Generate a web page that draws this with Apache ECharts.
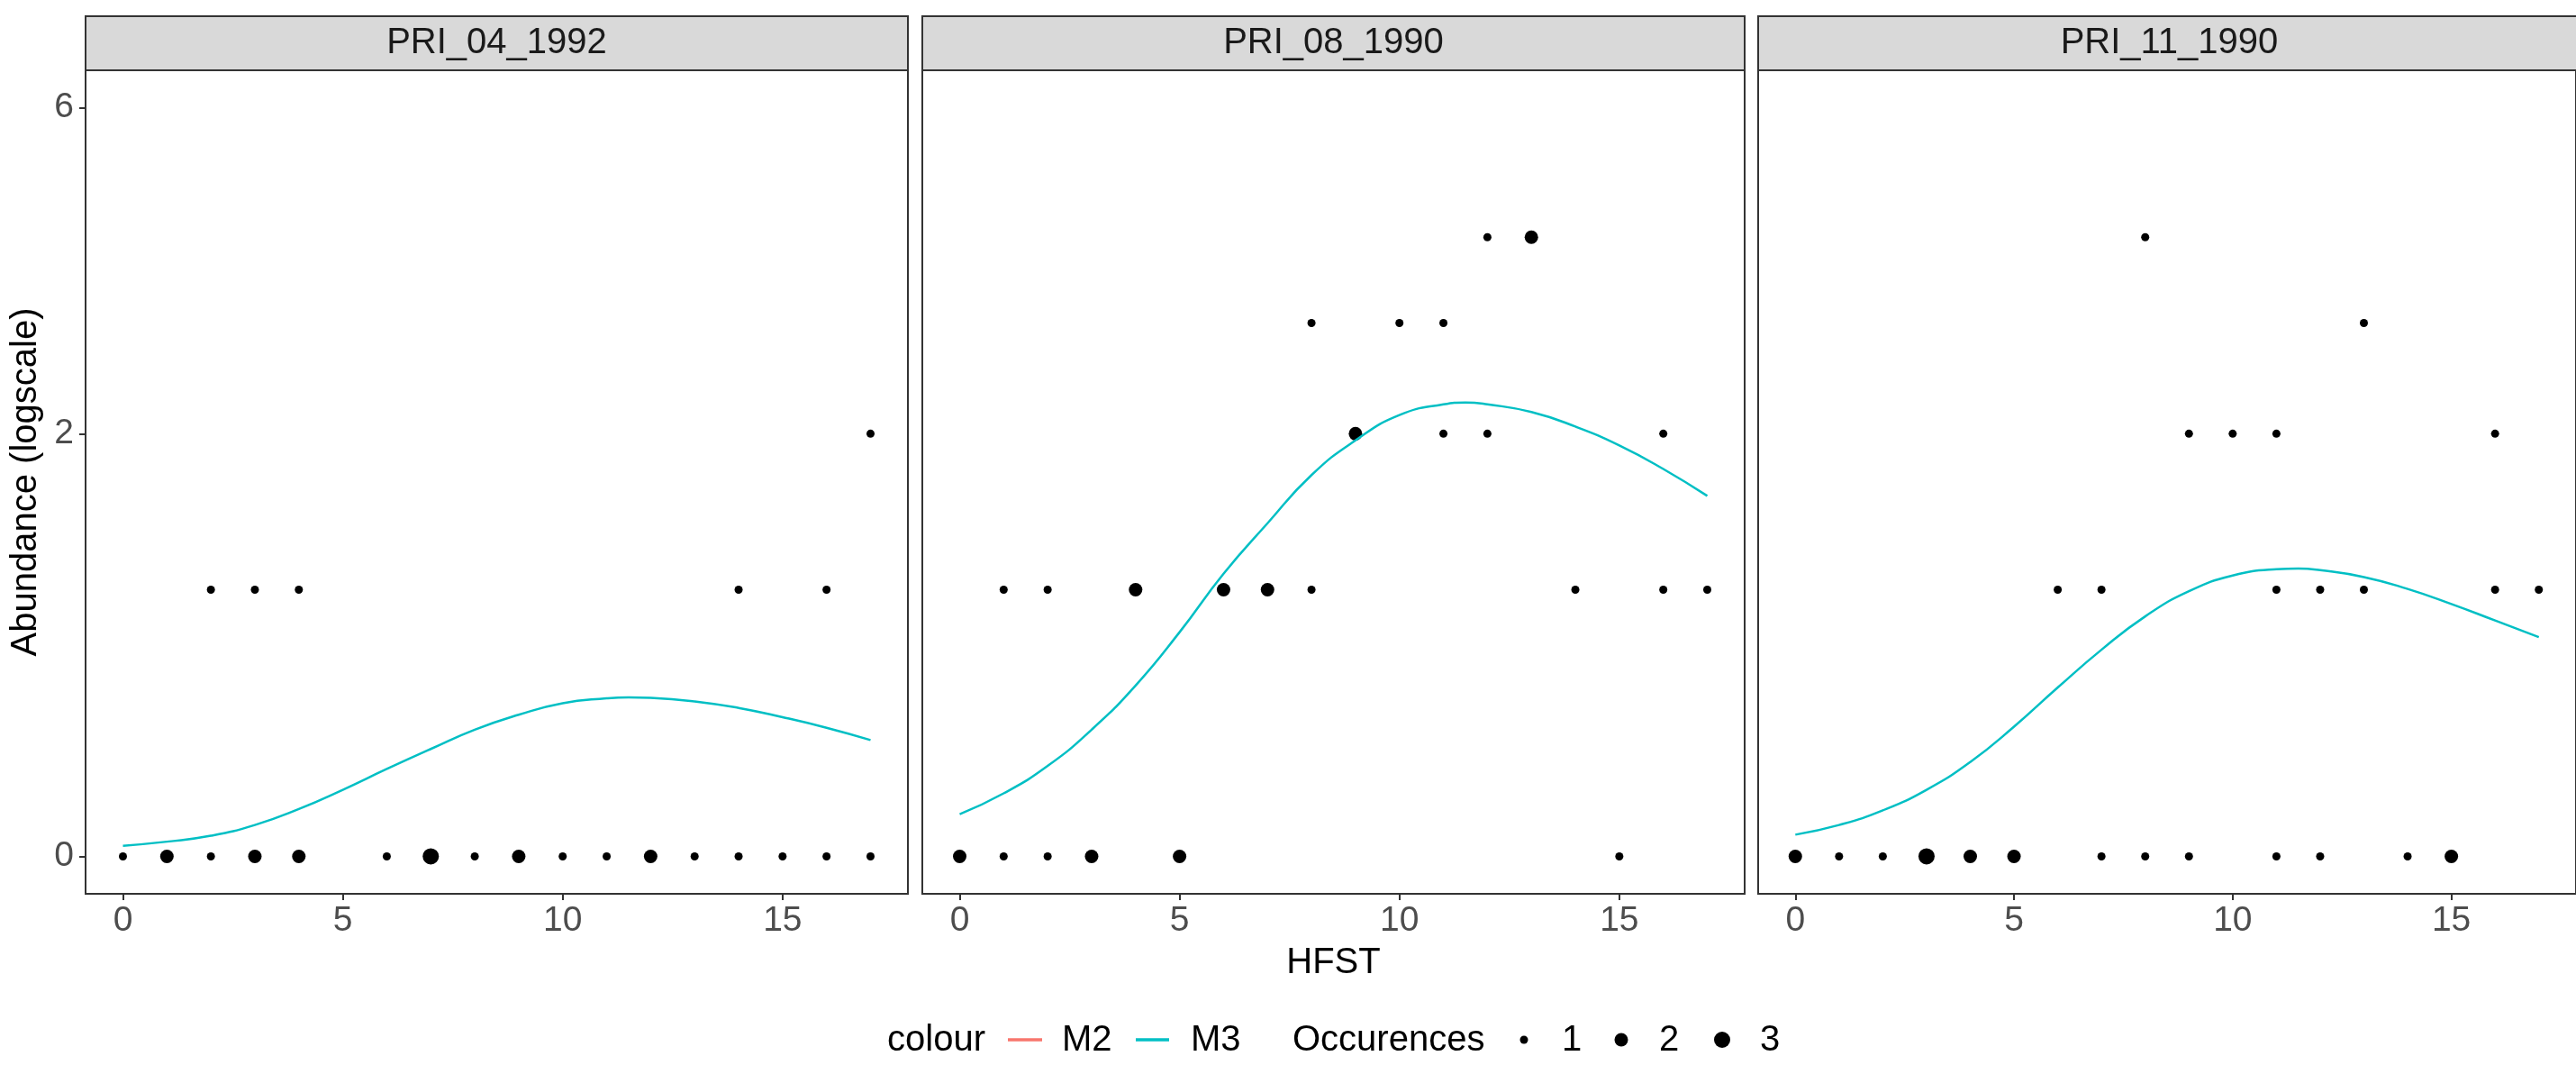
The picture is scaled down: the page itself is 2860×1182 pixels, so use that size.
<!DOCTYPE html>
<html>
<head>
<meta charset="utf-8">
<script src="https://cdn.jsdelivr.net/npm/echarts@6/dist/echarts.min.js"></script>
<style>
  html, body { margin: 0; padding: 0; background: #fff; }
  #main { width: 2860px; height: 1182px; }
</style>
</head>
<body>
<div id="main"></div>
<script>
// facet names
const panels = ['PRI_04_1992', 'PRI_08_1990', 'PRI_11_1990'];

// tick labels
const xTicks = [0, 5, 10, 15];
const yTicks = [0, 2, 6];

// points: [HFST, abundance, occurences]
const ptsPri0492 = [
  [0, 0, 1], [1, 0, 2], [2, 0, 1], [3, 0, 2], [4, 0, 2], [6, 0, 1], [7, 0, 3], [8, 0, 1],
  [9, 0, 2], [10, 0, 1], [11, 0, 1], [12, 0, 2], [13, 0, 1], [14, 0, 1], [15, 0, 1],
  [16, 0, 1], [17, 0, 1],
  [2, 1, 1], [3, 1, 1], [4, 1, 1], [14, 1, 1], [16, 1, 1],
  [17, 2, 1]
];
const ptsPri0890 = [
  [0, 0, 2], [1, 0, 1], [2, 0, 1], [3, 0, 2], [5, 0, 2], [15, 0, 1],
  [1, 1, 1], [2, 1, 1], [4, 1, 2], [6, 1, 2], [7, 1, 2], [8, 1, 1], [14, 1, 1], [16, 1, 1], [17, 1, 1],
  [9, 2, 2], [11, 2, 1], [12, 2, 1], [16, 2, 1],
  [8, 3, 1], [10, 3, 1], [11, 3, 1],
  [12, 4, 1], [13, 4, 2]
];
const ptsPri1190 = [
  [0, 0, 2], [1, 0, 1], [2, 0, 1], [3, 0, 3], [4, 0, 2], [5, 0, 2], [7, 0, 1], [8, 0, 1],
  [9, 0, 1], [11, 0, 1], [12, 0, 1], [14, 0, 1], [15, 0, 2],
  [6, 1, 1], [7, 1, 1], [11, 1, 1], [12, 1, 1], [13, 1, 1], [16, 1, 1], [17, 1, 1],
  [9, 2, 1], [10, 2, 1], [11, 2, 1], [16, 2, 1],
  [13, 3, 1],
  [8, 4, 1]
];

// fitted M3 curve (abundance) read at each HFST
const hfst = [0, 1, 2, 3, 4, 5, 6, 7, 8, 9, 10, 11, 11.5, 12, 13, 14, 15, 16, 17];
const m3Pri0492 = [0.028, 0.039, 0.055, 0.085, 0.131, 0.189, 0.255, 0.322, 0.390, 0.445, 0.489, 0.508, 0.512, 0.510, 0.496, 0.471, 0.436, 0.397, 0.353];
const m3Pri0890 = [0.116, 0.178, 0.265, 0.390, 0.559, 0.791, 1.085, 1.377, 1.694, 1.948, 2.149, 2.238, 2.254, 2.238, 2.174, 2.056, 1.910, 1.737, 1.552];
const m3Pri1190 = [0.058, 0.085, 0.127, 0.189, 0.278, 0.401, 0.551, 0.711, 0.866, 0.992, 1.075, 1.109, 1.113, 1.104, 1.067, 1.004, 0.927, 0.846, 0.768];

const occLevels = [1, 2, 3];

const FONT = '"Liberation Sans", Arial, sans-serif';
const TEAL = '#00BFC4', SALMON = '#F8766D';
const sizeOf = (n) => ({ 1: 9, 2: 15, 3: 18 })[n];
const ly = (v) => Math.log1p(v);

const pts = [ptsPri0492, ptsPri0890, ptsPri1190];
const curves = [m3Pri0492, m3Pri0890, m3Pri1190];

const panelLeft = [95, 1024, 1952];
const panelW = 913, panelTop = 78, panelH = 914;
const stripTop = 18;

// ggplot-like 5% expansion
const xMin = -0.85, xMax = 17.85;
const yTop = ly(yTicks[yTicks.length - 1]);
const yMin = -0.05 * yTop, yMax = 1.05 * yTop;

let myChart = echarts.init(document.getElementById('main'));

let grids = [], xAxes = [], yAxes = [], series = [], graphics = [];
panels.forEach((name, i) => {
  grids.push({
    left: panelLeft[i], top: panelTop, width: panelW, height: panelH,
    show: true, borderColor: '#333333', borderWidth: 2, backgroundColor: '#fff'
  });
  xAxes.push({
    gridIndex: i, type: 'value', min: xMin, max: xMax,
    axisLine: { show: false, onZero: false },
    splitLine: { show: false },
    axisTick: { show: true, length: 7, customValues: xTicks, lineStyle: { color: '#333333', width: 2 } },
    axisLabel: {
      show: true, customValues: xTicks, margin: 11,
      color: '#4D4D4D', fontSize: 39, fontFamily: FONT
    }
  });
  yAxes.push({
    gridIndex: i, type: 'value', min: yMin, max: yMax,
    axisLine: { show: false, onZero: false },
    splitLine: { show: false },
    axisTick: { show: i === 0, length: 7, customValues: yTicks.map(ly), lineStyle: { color: '#333333', width: 2 } },
    axisLabel: {
      show: i === 0, customValues: yTicks.map(ly), margin: 13,
      color: '#4D4D4D', fontSize: 39, fontFamily: FONT,
      formatter: (v) => String(Math.round(Math.expm1(v)))
    }
  });
  series.push({
    name: 'Occurences', type: 'scatter', xAxisIndex: i, yAxisIndex: i,
    data: pts[i].map(p => [p[0], ly(p[1]), p[2]]),
    symbolSize: (d) => sizeOf(d[2]),
    itemStyle: { color: '#000', opacity: 1 },
    z: 2
  });
  series.push({
    name: 'M3', type: 'line', xAxisIndex: i, yAxisIndex: i,
    data: hfst.map((x, j) => [x, ly(curves[i][j])]),
    smooth: true, showSymbol: false,
    lineStyle: { color: TEAL, width: 2.5 },
    z: 3
  });
  // facet strip
  graphics.push({
    type: 'rect',
    shape: { x: panelLeft[i], y: stripTop, width: panelW, height: panelTop - stripTop },
    style: { fill: '#D9D9D9', stroke: '#333333', lineWidth: 2 }
  });
  graphics.push({
    type: 'text', x: panelLeft[i] + panelW / 2, y: (stripTop + panelTop) / 2,
    style: { text: name, fill: '#1A1A1A', font: '40px ' + FONT, textAlign: 'center', textVerticalAlign: 'middle' }
  });
});

// axis titles
graphics.push({
  type: 'text', x: panelLeft[1] + panelW / 2, y: 1069,
  style: { text: 'HFST', fill: '#000', font: '40px ' + FONT, textAlign: 'center', textVerticalAlign: 'middle' }
});
graphics.push({
  type: 'text', x: 29, y: panelTop + panelH / 2, rotation: Math.PI / 2,
  style: { text: 'Abundance (logscale)', fill: '#000', font: '40px ' + FONT, textAlign: 'center', textVerticalAlign: 'middle' }
});

// legend
const legY = 1155;
const legText = (t, x) => ({
  type: 'text', x: x, y: legY,
  style: { text: t, fill: '#000', font: '40px ' + FONT, textAlign: 'left', textVerticalAlign: 'middle' }
});
graphics.push(legText('colour', 985));
graphics.push({ type: 'line', shape: { x1: 1119, y1: legY - 1, x2: 1157, y2: legY - 1 }, style: { stroke: SALMON, lineWidth: 3.5 } });
graphics.push(legText('M2', 1179));
graphics.push({ type: 'line', shape: { x1: 1261, y1: legY - 1, x2: 1298, y2: legY - 1 }, style: { stroke: TEAL, lineWidth: 3.5 } });
graphics.push(legText('M3', 1322));
graphics.push(legText('Occurences', 1435));
const dotX = [1692, 1800, 1912];
occLevels.forEach((n, k) => {
  graphics.push({ type: 'circle', shape: { cx: dotX[k], cy: legY - 1, r: sizeOf(n) / 2 }, style: { fill: '#000' } });
  graphics.push(legText(String(n), dotX[k] + 42));
});

myChart.setOption({
  animation: false,
  backgroundColor: '#ffffff',
  grid: grids,
  xAxis: xAxes,
  yAxis: yAxes,
  series: series,
  graphic: { elements: graphics }
});
</script>
</body>
</html>
